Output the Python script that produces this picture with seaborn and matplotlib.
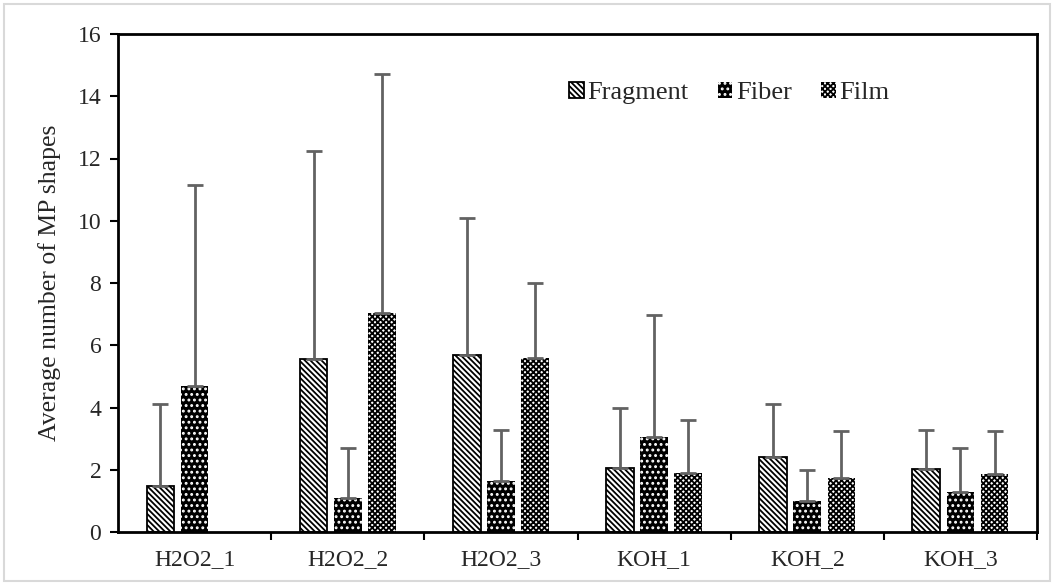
import numpy as np
import pandas as pd
import matplotlib
matplotlib.use("Agg")
import matplotlib.pyplot as plt
import seaborn as sns
from matplotlib.patches import Rectangle

# ---- data ----
categories = ["H2O2_1", "H2O2_2", "H2O2_3", "KOH_1", "KOH_2", "KOH_3"]
shapes = ["Fragment", "Fiber", "Film"]
fragment_mean = [1.48, 5.55, 5.68, 2.05, 2.40, 2.03]
fiber_mean = [4.70, 1.10, 1.65, 3.05, 1.00, 1.30]
film_mean = [np.nan, 7.05, 5.60, 1.90, 1.75, 1.85]
fragment_err = [2.62, 6.70, 4.40, 1.95, 1.70, 1.25]
fiber_err = [6.45, 1.60, 1.62, 3.92, 1.00, 1.40]
film_err = [np.nan, 7.65, 2.40, 1.70, 1.50, 1.40]
yticks = [0, 2, 4, 6, 8, 10, 12, 14, 16]

means = {"Fragment": fragment_mean, "Fiber": fiber_mean, "Film": film_mean}
errs = {"Fragment": fragment_err, "Fiber": fiber_err, "Film": film_err}

rows = []
for s in shapes:
    for c, m in zip(categories, means[s]):
        rows.append({"cat": c, "shape": s, "val": m})
df = pd.DataFrame(rows)

sns.set_theme(style="white")
plt.rcParams["font.family"] = ["Liberation Serif", "DejaVu Serif"]
plt.rcParams["hatch.linewidth"] = 1.3

fig = plt.figure(figsize=(10.56, 5.84), dpi=100)
ax = fig.add_axes([118 / 1056, 52 / 584, (1037 - 118) / 1056, (532 - 34) / 584])

sns.barplot(data=df, x="cat", y="val", hue="shape", order=categories,
            hue_order=shapes, errorbar=None, width=0.67, gap=0.19,
            ax=ax, legend=False)

styles = {
    "Fragment": dict(fc="white", ec="black", hatch="\\\\\\\\\\\\", lw=1.3),
    "Fiber": dict(fc="black", ec="white", hatch="...", lw=0),
    "Film": dict(fc="white", ec="black", hatch="xxxxxx", lw=0),
}

handles = []
for cont, s in zip(ax.containers, shapes):
    st = styles[s]
    for bar in cont.patches:
        bar.set_facecolor(st["fc"])
        bar.set_edgecolor(st["ec"])
        bar.set_hatch(st["hatch"])
        bar.set_linewidth(st["lw"])
    # error bars (upper only)
    for bar in cont.patches:
        h = bar.get_height()
        if not np.isfinite(h) or h == 0:
            continue
        xc = bar.get_x() + bar.get_width() / 2
        idx = int(round(xc))
        e = errs[s][idx]
        if not np.isfinite(e):
            continue
        ax.errorbar(xc, h, yerr=[[0], [e]], fmt="none", ecolor="#626262",
                    elinewidth=2.0, capsize=6, capthick=2.0, zorder=3)
    handles.append(cont.patches[1])

ax.set_ylim(0, 16)
ax.set_xlim(-0.5, len(categories) - 0.5)
ax.set_yticks(yticks)
ax.set_yticklabels([str(t) for t in yticks], fontsize=17)
ax.set_xticks(np.arange(len(categories)) + 0.5, minor=True)
ax.set_xticks(np.arange(len(categories)))
ax.set_xticklabels(categories, fontsize=17)
ax.tick_params(axis="x", which="major", length=0, pad=12)
ax.tick_params(axis="x", which="minor", length=6, width=1.5, direction="out", color="black")
ax.tick_params(axis="y", length=6, width=1.5, direction="out", color="black", left=True, pad=6)
ax.tick_params(axis="x", bottom=True, which="minor")
ax.set_xlabel("")
ax.set_ylabel("Average number of MP shapes", fontsize=18.5, labelpad=12)
for sp in ax.spines.values():
    sp.set_color("black")
    sp.set_linewidth(2.0)

leg = ax.legend(handles, shapes, loc="center left",
                bbox_to_anchor=(556 / 1056, (584 - 93) / 584),
                bbox_transform=fig.transFigure, ncol=3, frameon=False,
                fontsize=19, handlelength=0.55, handleheight=0.55,
                handletextpad=0.15, columnspacing=1.1, borderpad=0)

fig.patches.append(Rectangle((4 / 1056, 3 / 584), 1046 / 1056, 577 / 584,
                             transform=fig.transFigure, fill=False,
                             edgecolor="#d9d9d9", linewidth=1.5))

fig.savefig("out.png", dpi=100)
